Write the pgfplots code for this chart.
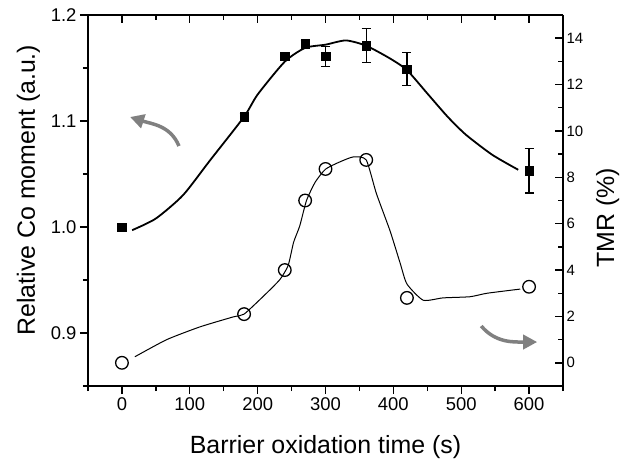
\documentclass[border=0pt]{standalone}
\usepackage{pgfplots}
\pgfplotsset{compat=1.18}
\usepackage{fontspec}
\setmainfont{Liberation Sans}
\usetikzlibrary{arrows.meta}
\definecolor{arrowgray}{RGB}{128,128,128}
\begin{document}
\begin{tikzpicture}
\pgfplotsset{
  common/.style={
    scale only axis, width=475bp, height=371bp,
    xmin=-50, xmax=650,
    xtick={0,100,...,600},
    minor xtick={-50,50,...,650},
    axis line style={line width=1.5bp},
    tick style={line width=1.4bp, black},
    major tick length=8bp, minor tick length=5bp,
    /pgf/number format/assume math mode=true,
    clip=false,
  }
}
\begin{axis}[common, name=ax,
  axis x line*=bottom, axis y line*=left, tick align=outside,
  ymin=0.85, ymax=1.2, ytick={0.9,1.0,1.1,1.2}, minor ytick={0.85,0.95,1.05,1.15},
  yticklabel style={font=\fontsize{18.5}{20}\selectfont, /pgf/number format/.cd, fixed, fixed zerofill, precision=1},
  xticklabel style={font=\fontsize{18.5}{20}\selectfont},
  xlabel={Barrier oxidation time (s)},
  ylabel={Relative Co moment (a.u.)},
  label style={font=\fontsize{25}{28}\selectfont},
  xlabel style={at={(rel axis cs:0.5,0)}, anchor=base, yshift=-67bp},
  ylabel style={at={(rel axis cs:-0.1116,0.528)}, anchor=base},
]
% fit curve
\addplot[black, line width=1.8bp, no marks, smooth, tension=0.4] coordinates {
(15,0.997)(50,1.008)(90,1.030)(130,1.063)(180,1.104)(200,1.125)(240,1.156)(270,1.169)(300,1.172)(330,1.176)(360,1.171)(395,1.159)(420,1.148)(450,1.126)(480,1.104)(507,1.087)(546,1.068)(584,1.054)
};
% data squares
\addplot[black, only marks, mark=square*, mark size=4.3bp,
  error bars/.cd, y dir=both, y explicit,
  error bar style={line width=1.3bp, black},
  error mark options={rotate=90, mark size=4.5bp, line width=1.3bp, black}]
coordinates {
(0,1.000) +- (0,0)
(180,1.104) +- (0,0.003)
(240,1.161) +- (0,0.003)
(270,1.173) +- (0,0.003)
(300,1.161) +- (0,0.0095)
(360,1.171) +- (0,0.016)
(420,1.149) +- (0,0.0155)
(600,1.053) +- (0,0.021)
};
\draw[arrowgray, line width=3.5bp, -{Triangle[length=14bp,width=14bp]}]
  (axis cs:84,1.0764) to[out=112,in=-18] (axis cs:12,1.1038);
\draw[arrowgray, line width=3.5bp, -{Triangle[length=14bp,width=14bp]}]
  (axis cs:529.5,0.9066) to[out=-50,in=180] (axis cs:612,0.8915);
\end{axis}
\begin{axis}[common,
  axis x line*=top, axis y line*=right, tick align=inside,
  xticklabels={},
  ymin=-1, ymax=15, ytick={0,2,...,14}, minor ytick={-1,1,...,15},
  yticklabel style={font=\fontsize{15}{16}\selectfont},
  ylabel={TMR (\%)},
  ylabel style={font=\fontsize{25}{28}\selectfont, at={(rel axis cs:1.1074,0.453)}, anchor=base},
]
\addplot[black, line width=1bp, no marks, smooth, tension=0.35] coordinates {
(19,0.26)(66,1.0)(115,1.55)(164,1.98)(180,2.1)(213,3.0)(233,3.6)(245,4.2)(253,5.2)(262,5.9)(272,7.0)(285,7.8)(300,8.35)(320,8.65)(341,8.88)(360,8.75)(375,7.3)(395,5.7)(410,4.3)(420,3.4)(444,2.7)(473,2.8)(513,2.85)(538,3.0)(587,3.18)
};
\addplot[black, only marks, mark=o, mark size=6.3bp, mark options={fill=white, line width=1.3bp}] coordinates {
(0,0)(180,2.1)(240,4.0)(270,7.0)(300,8.36)(360,8.75)(420,2.8)(600,3.28)
};
\end{axis}
\pgfresetboundingbox
\path[use as bounding box] ([shift={(-88bp,-84bp)}]ax.south west) rectangle ([shift={(61bp,15bp)}]ax.north east);
\end{tikzpicture}
\end{document}
